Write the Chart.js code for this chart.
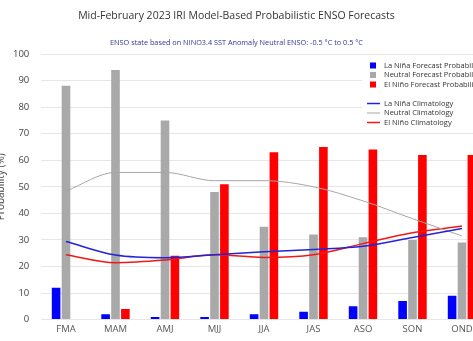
<!DOCTYPE html>
<html>
<head>
<meta charset="utf-8">
<script src="https://cdn.jsdelivr.net/npm/chart.js@4.4.0/dist/chart.umd.min.js"></script>
<style>
  html, body { margin: 0; padding: 0; background: #fff; overflow: hidden; }
  #wrap { position: relative; width: 473px; height: 341px; overflow: hidden; }
  #title { position: absolute; left: 0; top: 8px; width: 473px; text-align: center;
           font: 10.5px 'Open Sans', sans-serif; color: #333; white-space: nowrap; }
  #sub { position: absolute; left: 0; top: 37px; width: 473px; text-align: center;
         font: 7.3px 'Open Sans', sans-serif; color: #333399; white-space: nowrap; }
  #box { position: absolute; left: -9px; top: 0; }
</style>
</head>
<body>
<div id="wrap">
  <canvas id="box" width="520" height="341"></canvas>
  <div id="title">Mid-February 2023 IRI Model-Based Probabilistic ENSO Forecasts</div>
  <div id="sub">ENSO state based on NINO3.4 SST Anomaly Neutral ENSO: -0.5 °C to 0.5 °C</div>
</div>
<script>
// seasons + forecast probabilities (%)
const seasons = ['FMA', 'MAM', 'AMJ', 'MJJ', 'JJA', 'JAS', 'ASO', 'SON', 'OND'];
const laNina  = [12, 2, 1, 1, 2, 3, 5, 7, 9];
const neutral = [88, 94, 75, 48, 35, 32, 31, 30, 29];
const elNino  = [0, 4, 24, 51, 63, 65, 64, 62, 62];

// climatology curves
const laNinaClim  = [29.4, 24.3, 23.3, 24.4, 25.5, 26.4, 27.6, 30.9, 34.3];
const neutralClim = [48.4, 55.4, 55.4, 52.3, 52.3, 50.0, 44.7, 38.0, 31.5];
const elNinoClim  = [24.4, 21.4, 22.4, 24.4, 23.4, 24.4, 28.6, 32.7, 35.2];

const yTicks = [0, 10, 20, 30, 40, 50, 60, 70, 80, 90, 100];

const FONT = "'Open Sans', sans-serif";
Chart.defaults.font.family = FONT;

// legend box sits over the plot at top right (partly cut off by the frame)
const cornerLegend = {
  id: 'cornerLegend',
  afterDraw(chart) {
    const ctx = chart.ctx;
    const dx = 9;
    ctx.save();
    ctx.fillStyle = '#fff';
    ctx.fillRect(362 + dx, 57, 200, 72);
    ctx.font = '7.5px ' + FONT;
    ctx.textBaseline = 'middle';
    const rows = [65.5, 75, 84.5, 103.5, 113, 122.5];
    chart.data.datasets.forEach((ds, i) => {
      const y = rows[i];
      if (ds.type === 'line') {
        ctx.strokeStyle = ds.borderColor;
        ctx.lineWidth = ds.borderWidth;
        ctx.beginPath();
        ctx.moveTo(367 + dx, y);
        ctx.lineTo(380 + dx, y);
        ctx.stroke();
      } else {
        ctx.fillStyle = ds.backgroundColor;
        ctx.fillRect(370 + dx, y - 3, 6, 6);
      }
      ctx.fillStyle = '#333';
      ctx.fillText(ds.label, 384 + dx, y);
    });
    ctx.restore();
  }
};

const climLine = (label, data, color, w) => ({
  type: 'line', label, data, borderColor: color, borderWidth: w,
  cubicInterpolationMode: 'monotone', pointRadius: 0, fill: false, order: 0
});

new Chart(document.getElementById('box'), {
  type: 'bar',
  data: {
    labels: seasons,
    datasets: [
      { label: 'La Niña Forecast Probability', data: laNina, backgroundColor: '#0000ff', order: 1 },
      { label: 'Neutral Forecast Probability', data: neutral, backgroundColor: '#a9a9a9', order: 1 },
      { label: 'El Niño Forecast Probability', data: elNino, backgroundColor: '#ff0000', order: 1 },
      climLine('La Niña Climatology', laNinaClim, '#2323d8', 1.5),
      climLine('Neutral Climatology', neutralClim, '#a6a6a6', 1),
      climLine('El Niño Climatology', elNinoClim, '#f01818', 1.5)
    ]
  },
  options: {
    responsive: false,
    animation: false,
    categoryPercentage: 0.6,
    barPercentage: 0.87,
    layout: { padding: { top: 54, right: 24.25, bottom: 2, left: 0 } },
    plugins: {
      legend: { display: false },
      tooltip: { enabled: false }
    },
    scales: {
      x: {
        grid: { display: false, drawTicks: false },
        border: { display: true, color: '#e6e6e6' },
        ticks: { color: '#555', font: { size: 9.5 }, padding: 4, maxRotation: 0, autoSkip: false }
      },
      y: {
        min: 0, max: 100,
        afterFit: s => { s.width = 50.25; },
        afterBuildTicks: s => { s.ticks = yTicks.map(v => ({ value: v })); },
        grid: { color: '#e6e6e6', drawTicks: false },
        border: { display: false },
        ticks: { color: '#444', font: { size: 9.5 }, padding: 12 },
        title: { display: true, text: 'Probability (%)', color: '#444', font: { size: 10 }, padding: { top: 4, bottom: 4 } }
      }
    }
  },
  plugins: [cornerLegend]
});
</script>
</body>
</html>
